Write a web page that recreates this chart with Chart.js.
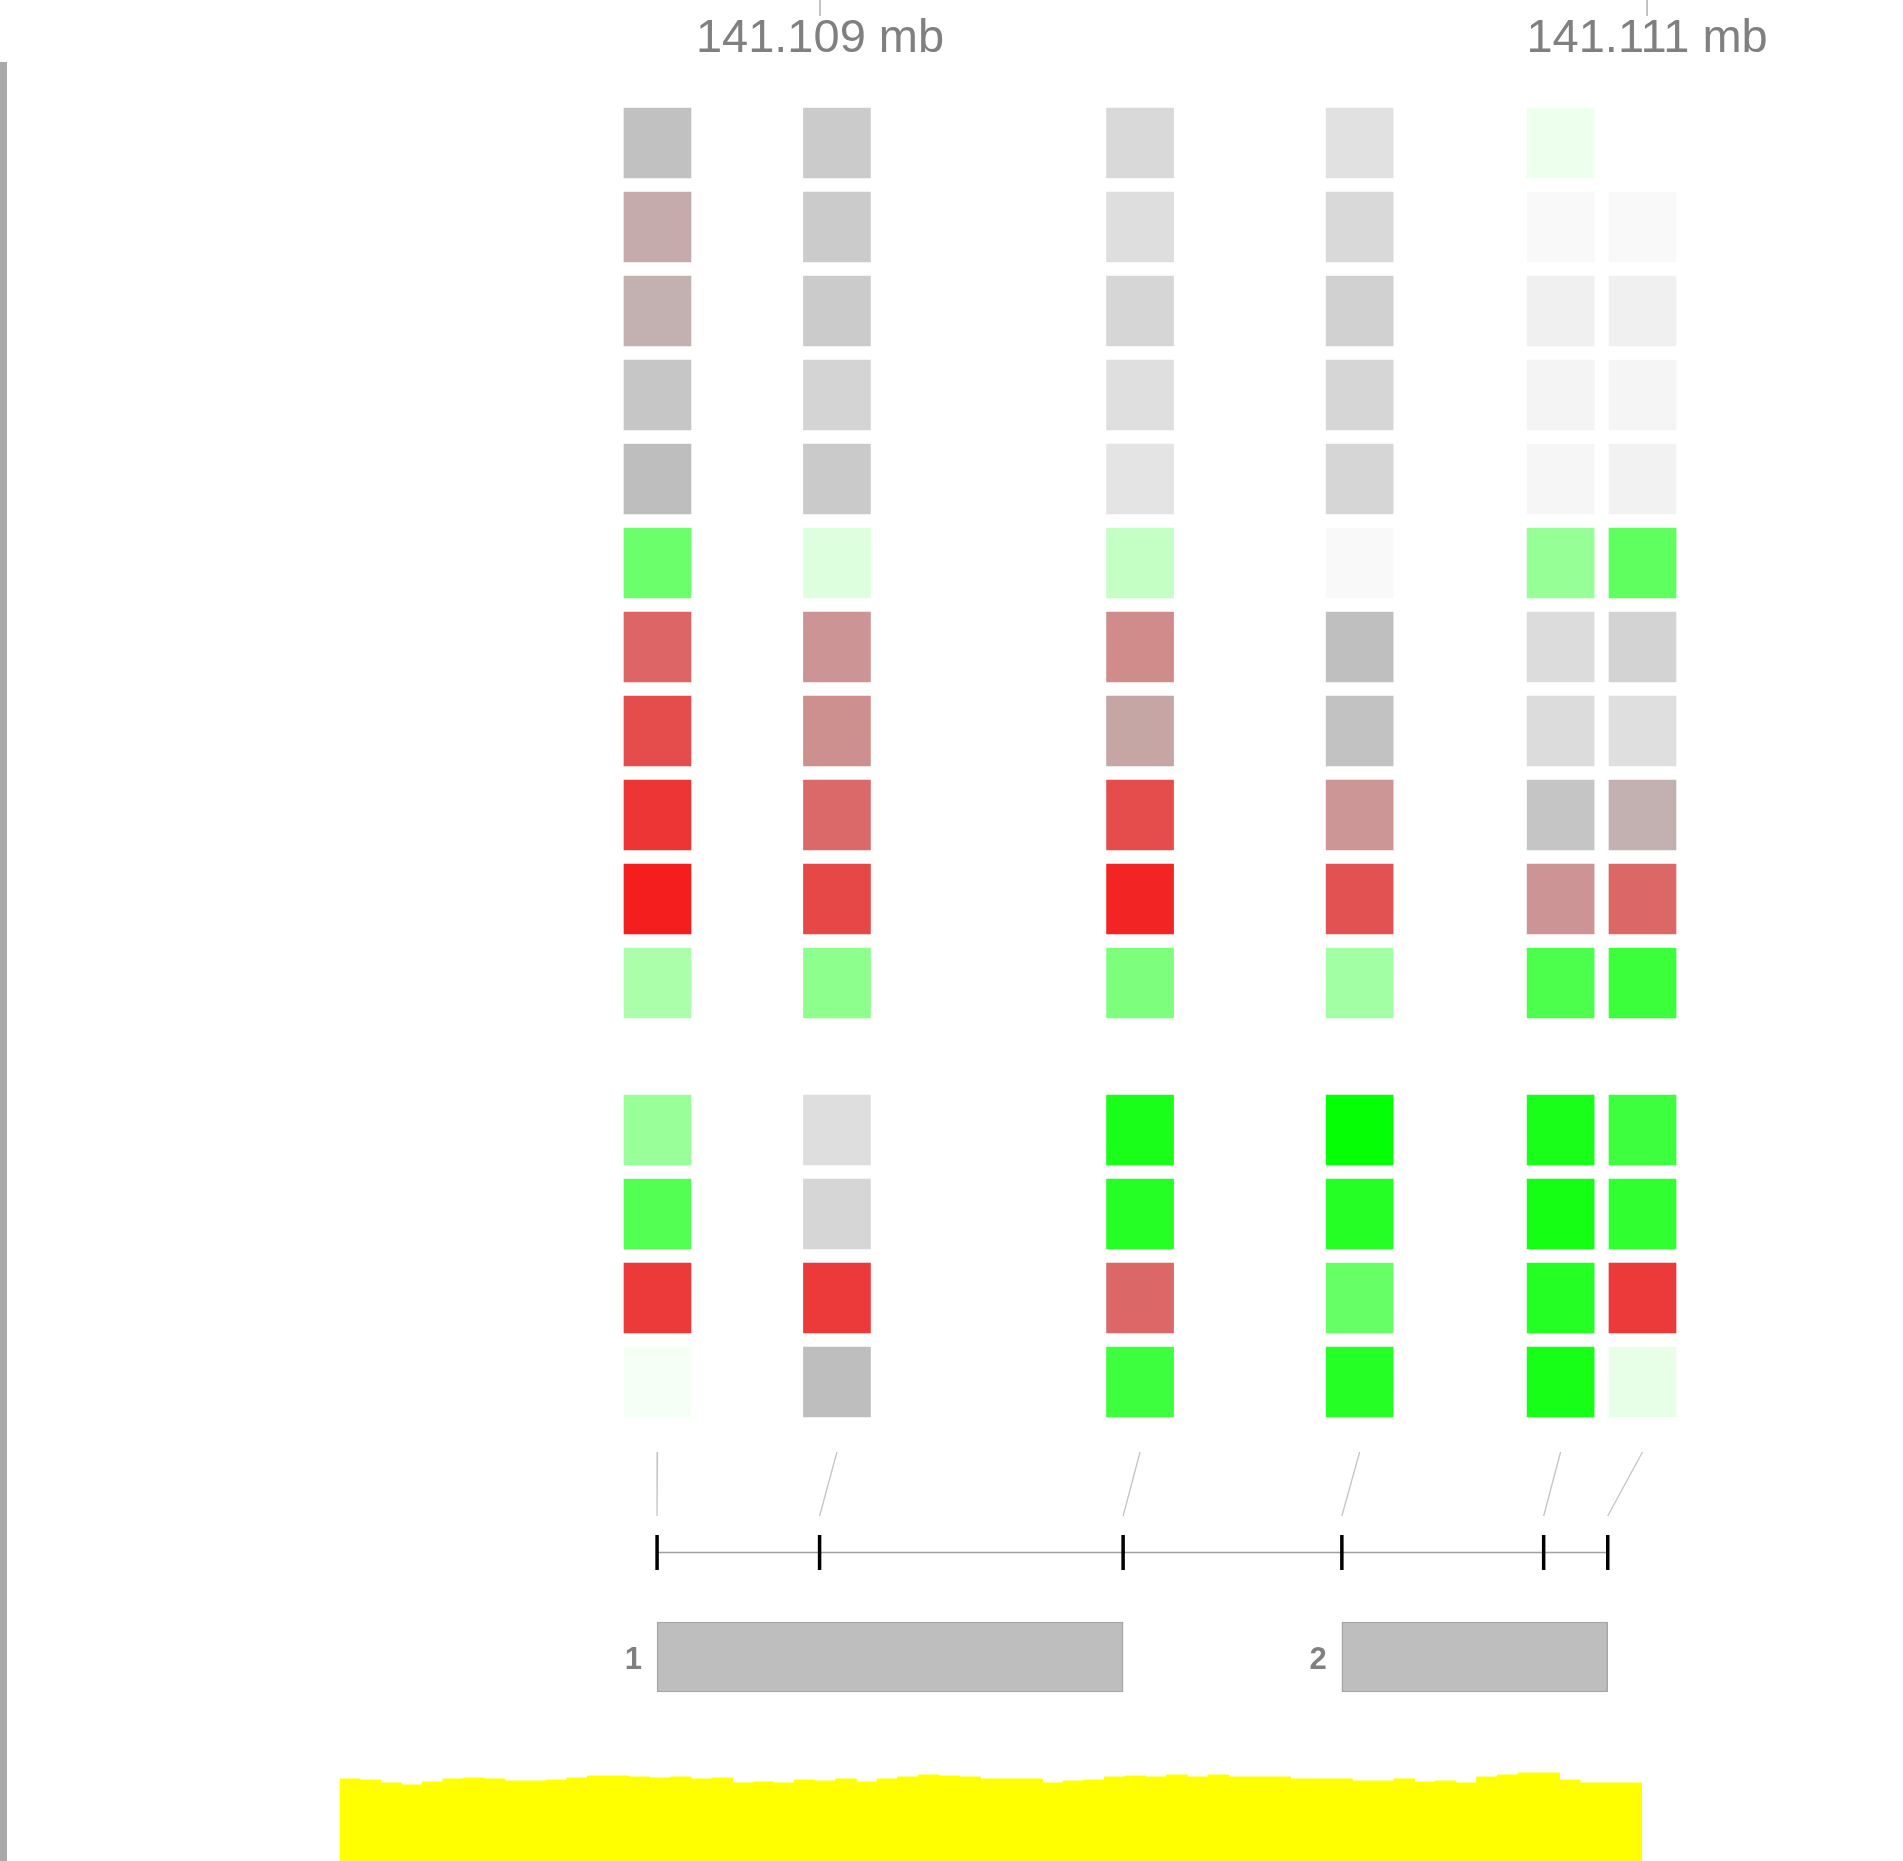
<!DOCTYPE html>
<html>
<head>
<meta charset="utf-8">
<title>Region heatmap</title>
<script src="https://cdn.jsdelivr.net/npm/chart.js@4/dist/chart.umd.min.js"></script>
<style>
  html, body { margin:0; padding:0; background:#fff; overflow:hidden; }
  .wrap { position:relative; width:1903px; height:1861px; }
</style>
</head>
<body>
<div class="wrap"><canvas id="c" width="1903" height="1861"></canvas></div>
<script>
(() => {
  "use strict";

  // genome window (bp) and ruler
  const VIEW_START = 141107017, VIEW_END = 141111619;
  const rulerTicks = [141109000, 141111000];

  // probes: real position on the gene line, and spread slot for the heatmap column
  const probePos  = [141108606, 141108999, 141109733, 141110262, 141110750, 141110905];
  const probeSlot = [141108607, 141109041, 141109774, 141110305, 141110791, 141110989];

  // exons
  const exonLabels = ["1", "2"];
  const exonStart  = [141108606, 141110262];
  const exonEnd    = [141109733, 141110905];

  // samples, two groups
  const groupSizes = [11, 4];

  // heatmap: signed score (+ red, - green) and weight (opacity), one row per sample
  const heatScore = [
    [0,    0,    0,    0,    -1,   null],
    [0.1,  0,    0,    0,    0,    0],
    [0.07, 0,    0,    0,    0,    0],
    [0,    0,    0,    0,    0,    0],
    [0,    0,    0,    0,    0,    0],
    [-1,   -1,   -1,   0,    -1,   -1],
    [0.47, 0.22, 0.27, 0,    0,    0],
    [0.6,  0.25, 0.13, 0,    0,    0],
    [0.72, 0.45, 0.6,  0.21, 0,    0.07],
    [0.84, 0.62, 0.81, 0.57, 0.22, 0.46],
    [-1,   -1,   -1,   -1,   -1,   -1],
    [-1,   0,    -1,   -1,   -1,   -1],
    [-1,   0,    -1,   -1,   -1,   -1],
    [0.7,  0.7,  0.46, -1,   -1,   0.7],
    [-1,   0,    -1,   -1,   -1,   -1]
  ];
  const heatWeight = [
    [0.95, 0.8,  0.59, 0.46, 0.07, null],
    [1,    0.8,  0.51, 0.59, 0.09, 0.09],
    [1,    0.8,  0.63, 0.71, 0.23, 0.23],
    [0.88, 0.66, 0.49, 0.63, 0.17, 0.15],
    [1,    0.82, 0.42, 0.63, 0.14, 0.2],
    [0.58, 0.13, 0.23, 0.09, 0.41, 0.63],
    [1,    1,    1,    0.98, 0.54, 0.68],
    [1,    1,    1,    0.94, 0.54, 0.49],
    [1,    1,    1,    1,    0.89, 1],
    [1,    1,    1,    1,    1,    1],
    [0.33, 0.45, 0.51, 0.36, 0.7,  0.77],
    [0.4,  0.51, 0.9,  0.98, 0.9,  0.76],
    [0.67, 0.63, 0.85, 0.85, 0.92, 0.81],
    [1,    1,    1,    0.6,  0.86, 1],
    [0.04, 1,    0.76, 0.85, 0.91, 0.1]
  ];

  // coverage, 50 bp bins
  const covStart = 141107838, covBin = 50;
  const covDepth = [
    82,81,78,76,79,82,83,82,80,80,
    81,83,85,85,84,83,84,82,83,78,
    79,78,81,80,82,79,82,84,86,85,
    84,82,82,82,78,80,81,84,85,84,
    86,84,86,84,84,84,82,82,82,80,
    80,82,79,80,78,84,86,88,88,81,
    78,78,78
  ];

  // track levels on the gene axis
  const GENE = { linkTop: 0, linkBottom: 6.4, axis: 10.05, exon: 20.5 };
  const CELL = 0.833, GROUP_GAP = 0.75;
  const FONT = "'Liberation Sans', Arial, Helvetica, sans-serif";

  const GREY = 190;
  function cellColour(s, w){
    const t = Math.abs(s);
    const base = s >= 0
      ? [GREY + (255 - GREY) * t, GREY * (1 - t), GREY * (1 - t)]
      : [GREY * (1 - t), GREY + (255 - GREY) * t, GREY * (1 - t)];
    const c = base.map(v => Math.round(255 - w * (255 - v)));
    return `rgb(${c.join(",")})`;
  }

  const slotOf = i => i < groupSizes[0] ? i : i + GROUP_GAP;

  const heatSets = heatScore.map((row, i) => {
    const cells = row
      .map((s, j) => ({ s, w: heatWeight[i][j], x: probeSlot[j] }))
      .filter(c => c.s != null);
    return {
      type: "bar", xAxisID: "x", yAxisID: "yHeat",
      grouped: false, barThickness: 67, borderWidth: 0,
      data: cells.map(c => ({ x: c.x, y: [slotOf(i), slotOf(i) + CELL] })),
      backgroundColor: cells.map(c => cellColour(c.s, c.w))
    };
  });

  const linkSets = probePos.map((p, j) => ({
    type: "line", xAxisID: "x", yAxisID: "yGene",
    data: [{ x: probeSlot[j], y: GENE.linkTop }, { x: p, y: GENE.linkBottom }],
    borderColor: "#c4c4c4", borderWidth: 1.3, pointRadius: 0, fill: false
  }));

  const axisLine = {
    type: "line", xAxisID: "x", yAxisID: "yGene", order: 2,
    data: [{ x: probePos[0], y: GENE.axis }, { x: probePos[probePos.length - 1], y: GENE.axis }],
    borderColor: "#a0a0a0", borderWidth: 1.5, pointRadius: 0, fill: false
  };

  const axisTicks = {
    type: "scatter", xAxisID: "x", yAxisID: "yGene", order: 1,
    data: probePos.map(x => ({ x, y: GENE.axis })),
    pointStyle: "line", pointRotation: 90, pointRadius: 17.5,
    pointBorderColor: "#000", pointBorderWidth: 3.5, pointBackgroundColor: "#000",
    pointHoverRadius: 17.5
  };

  const exons = {
    type: "bar", indexAxis: "y", xAxisID: "x", yAxisID: "yGene",
    grouped: false, barThickness: 70,
    data: exonStart.map((s, k) => ({ x: [s, exonEnd[k]], y: GENE.exon })),
    backgroundColor: "#bebebe", borderColor: "#a6a6a6", borderWidth: 1.5, borderSkipped: false
  };

  const covPoints = covDepth.map((d, i) => ({ x: covStart + i * covBin, y: d }));
  covPoints.push({ x: covStart + covDepth.length * covBin, y: covDepth[covDepth.length - 1] });
  const coverage = {
    type: "line", xAxisID: "x", yAxisID: "yCov",
    data: covPoints, stepped: true,
    borderColor: "#ffff00", borderWidth: 1, backgroundColor: "#ffff00",
    fill: "origin", pointRadius: 0
  };

  // ruler on top + title panel edge
  const ruler = {
    id: "ruler",
    beforeDatasetsDraw(chart){
      const { ctx, scales: { x } } = chart;
      ctx.save();
      ctx.fillStyle = "#a9a9a9";
      ctx.fillRect(0, 62, 7, chart.height - 62);
      ctx.strokeStyle = "#b0b0b0";
      ctx.lineWidth = 1.5;
      ctx.fillStyle = "#808080";
      ctx.font = `47px ${FONT}`;
      ctx.textAlign = "center";
      ctx.textBaseline = "alphabetic";
      rulerTicks.forEach(v => {
        const px = x.getPixelForValue(v);
        ctx.beginPath();
        ctx.moveTo(px, 0);
        ctx.lineTo(px, 16);
        ctx.stroke();
        ctx.fillText(`${(v / 1e6).toFixed(3)} mb`, px, 52);
      });
      ctx.restore();
    },
    afterDatasetsDraw(chart){
      const { ctx, scales: { x, yGene } } = chart;
      ctx.save();
      ctx.fillStyle = "#808080";
      ctx.font = `bold 31px ${FONT}`;
      ctx.textAlign = "right";
      ctx.textBaseline = "alphabetic";
      const py = yGene.getPixelForValue(GENE.exon) + 12;
      exonLabels.forEach((lab, k) => {
        ctx.fillText(lab, x.getPixelForValue(exonStart[k]) - 15, py);
      });
      ctx.restore();
    }
  };

  const hidden = { display: false, offset: false, grid: { display: false } };

  new Chart(document.getElementById("c").getContext("2d"), {
    type: "bar",
    data: { datasets: [...heatSets, ...linkSets, axisLine, axisTicks, exons, coverage] },
    options: {
      responsive: false,
      devicePixelRatio: 1,
      animation: false,
      events: [],
      layout: { padding: 0, autoPadding: false },
      plugins: { legend: { display: false }, tooltip: { enabled: false } },
      scales: {
        x:     { ...hidden, type: "linear", axis: "x", min: VIEW_START, max: VIEW_END },
        yHeat: { ...hidden, type: "linear", axis: "y", reverse: true, min: -1.2857, max: 20.869 },
        yGene: { ...hidden, type: "linear", axis: "y", reverse: true, min: -145.2, max: 40.9 },
        yCov:  { ...hidden, type: "linear", axis: "y", min: 0, max: 1861 }
      }
    },
    plugins: [ruler]
  });
})();
</script>
</body>
</html>
